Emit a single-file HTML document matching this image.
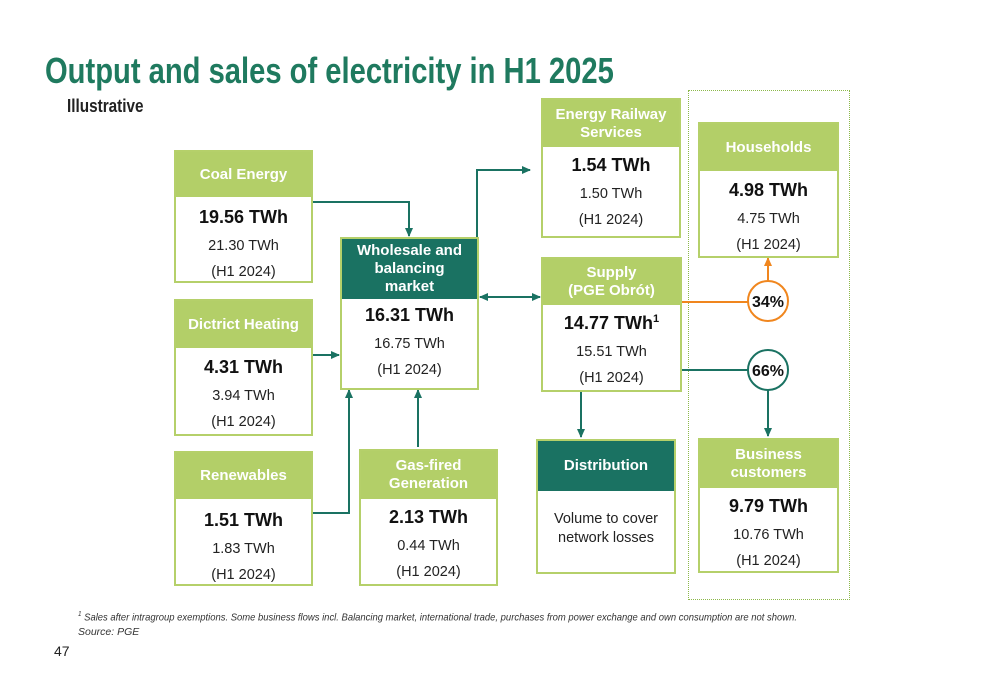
<!DOCTYPE html>
<html><head><meta charset="utf-8"><style>
body{margin:0;width:1000px;height:685px;background:#fff;font-family:"Liberation Sans",sans-serif;position:relative;overflow:hidden}
.abs{position:absolute}
.box{position:absolute;border:2px solid #b5d06a;background:#fff;box-sizing:border-box;text-align:center;color:#222}
.hd{background:#b3cf68;color:#fff;font-weight:bold;font-size:15px;display:flex;align-items:center;justify-content:center;line-height:18px}
.hd.dark{background:#1a7262}
.big{font-weight:bold;font-size:18px;color:#111}
.sm{font-size:14.5px;color:#222;margin-top:10px !important}
</style></head><body>
<div class="abs" style="left:45px;top:50px;font-size:36px;font-weight:bold;color:#1f7a5f;transform:scaleX(0.81);transform-origin:left;white-space:nowrap">Output and sales of electricity in H1 2025</div>
<div class="abs" style="left:67px;top:96px;font-size:18px;font-weight:bold;color:#222;transform:scaleX(0.85);transform-origin:left">Illustrative</div>

<div class="abs" style="left:688px;top:90px;width:162px;height:510px;border:1px dotted #8cb84a;box-sizing:border-box"></div>

<svg class="abs" style="left:0;top:0" width="1000" height="685">
<defs>
<marker id="a" markerUnits="userSpaceOnUse" markerWidth="9" markerHeight="8" refX="8" refY="4" orient="auto"><path d="M0,0 L9,4 L0,8 z" fill="#1a7262"/></marker>
<marker id="b" markerUnits="userSpaceOnUse" markerWidth="9" markerHeight="8" refX="1" refY="4" orient="auto"><path d="M9,0 L0,4 L9,8 z" fill="#1a7262"/></marker>
<marker id="o" markerUnits="userSpaceOnUse" markerWidth="9" markerHeight="8" refX="8" refY="4" orient="auto"><path d="M0,0 L9,4 L0,8 z" fill="#f0861e"/></marker>
</defs>
<g fill="none" stroke="#1a7262" stroke-width="2">
<polyline points="312,202 409,202 409,236" marker-end="url(#a)"/>
<polyline points="312,355 339,355" marker-end="url(#a)"/>
<polyline points="312,513 349,513 349,390" marker-end="url(#a)"/>
<polyline points="418,447 418,390" marker-end="url(#a)"/>
<polyline points="477,250 477,170 530,170" marker-end="url(#a)"/>
<line x1="480" y1="297" x2="540" y2="297" marker-start="url(#b)" marker-end="url(#a)"/>
<polyline points="581,391 581,437" marker-end="url(#a)"/>
<polyline points="681,370 748,370"/>
<polyline points="768,390 768,436" marker-end="url(#a)"/>
<circle cx="768" cy="370" r="20" fill="#fff"/>
</g>
<g fill="none" stroke="#f0861e" stroke-width="2">
<polyline points="681,302 748,302"/>
<polyline points="768,281 768,258" marker-end="url(#o)"/>
<circle cx="768" cy="301" r="20" fill="#fff"/>
</g>
<text x="768" y="307" text-anchor="middle" font-family="Liberation Sans" font-weight="bold" font-size="16" fill="#111">34%</text>
<text x="768" y="376" text-anchor="middle" font-family="Liberation Sans" font-weight="bold" font-size="16" fill="#111">66%</text>
</svg>

<div class="box" style="left:174px;top:150px;width:139px;height:133px">
<div class="hd" style="height:45px">Coal Energy</div>
<div class="big" style="margin-top:10px">19.56 TWh</div><div class="sm">21.30 TWh</div><div class="sm">(H1 2024)</div></div>

<div class="box" style="left:174px;top:299px;width:139px;height:137px">
<div class="hd" style="height:47px">Dictrict Heating</div>
<div class="big" style="margin-top:9px">4.31 TWh</div><div class="sm">3.94 TWh</div><div class="sm">(H1 2024)</div></div>

<div class="box" style="left:174px;top:451px;width:139px;height:135px">
<div class="hd" style="height:46px">Renewables</div>
<div class="big" style="margin-top:11px">1.51 TWh</div><div class="sm">1.83 TWh</div><div class="sm">(H1 2024)</div></div>

<div class="box" style="left:340px;top:237px;width:139px;height:153px">
<div class="hd dark" style="height:60px">Wholesale and<br>balancing<br>market</div>
<div class="big" style="margin-top:6px">16.31 TWh</div><div class="sm">16.75 TWh</div><div class="sm">(H1 2024)</div></div>

<div class="box" style="left:359px;top:449px;width:139px;height:137px">
<div class="hd" style="height:48px">Gas-fired<br>Generation</div>
<div class="big" style="margin-top:8px">2.13 TWh</div><div class="sm">0.44 TWh</div><div class="sm">(H1 2024)</div></div>

<div class="box" style="left:541px;top:98px;width:140px;height:140px">
<div class="hd" style="height:47px">Energy Railway<br>Services</div>
<div class="big" style="margin-top:8px">1.54 TWh</div><div class="sm">1.50 TWh</div><div class="sm">(H1 2024)</div></div>

<div class="box" style="left:541px;top:257px;width:141px;height:135px">
<div class="hd" style="height:46px">Supply<br>(PGE Obrót)</div>
<div class="big" style="margin-top:8px">14.77 TWh<sup style="font-size:11px">1</sup></div><div class="sm">15.51 TWh</div><div class="sm">(H1 2024)</div></div>

<div class="box" style="left:536px;top:439px;width:140px;height:135px">
<div class="hd dark" style="height:50px">Distribution</div>
<div class="sm" style="margin-top:19px !important;line-height:19px">Volume to cover<br>network losses</div></div>

<div class="box" style="left:698px;top:122px;width:141px;height:136px">
<div class="hd" style="height:47px">Households</div>
<div class="big" style="margin-top:9px">4.98 TWh</div><div class="sm">4.75 TWh</div><div class="sm">(H1 2024)</div></div>

<div class="box" style="left:698px;top:438px;width:141px;height:135px">
<div class="hd" style="height:48px">Business<br>customers</div>
<div class="big" style="margin-top:8px">9.79 TWh</div><div class="sm">10.76 TWh</div><div class="sm">(H1 2024)</div></div>

<div class="abs" style="left:78px;top:611px;font-size:10.5px;font-style:italic;color:#333;white-space:nowrap;transform:scaleX(0.9);transform-origin:left"><sup style="font-size:7px">1</sup> Sales after intragroup exemptions. Some business flows incl. Balancing market, international trade, purchases from power exchange and own consumption are not shown.</div>
<div class="abs" style="left:78px;top:626px;font-size:10.5px;font-style:italic;color:#333">Source: PGE</div>
<div class="abs" style="left:54px;top:643px;font-size:14px;color:#222">47</div>
</body></html>
